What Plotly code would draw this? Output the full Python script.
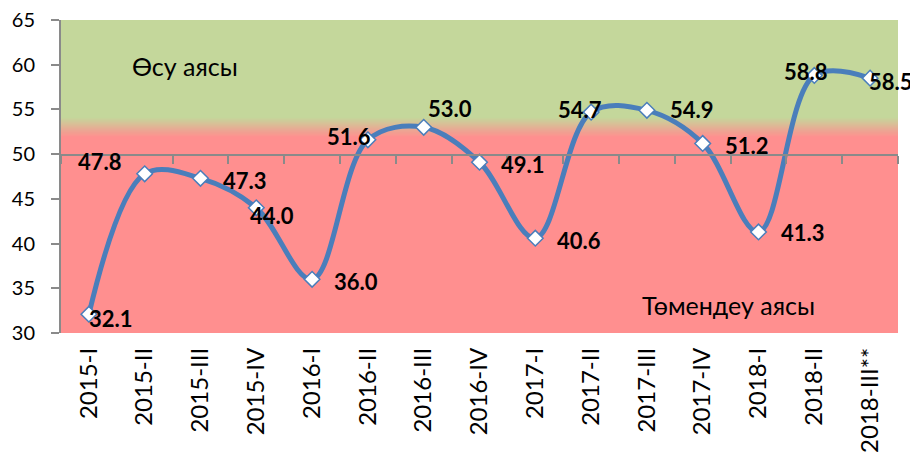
import plotly.graph_objects as go

quarters = [
    "2015-I", "2015-II", "2015-III", "2015-IV",
    "2016-I", "2016-II", "2016-III", "2016-IV",
    "2017-I", "2017-II", "2017-III", "2017-IV",
    "2018-I", "2018-II", "2018-III**",
]
index_values = [32.1, 47.8, 47.3, 44.0, 36.0, 51.6, 53.0, 49.1,
                40.6, 54.7, 54.9, 51.2, 41.3, 58.8, 58.5]

# pixel offsets of each value label from its point
label_dx = [22, -45, 44, 16, 44, -19, 26, 43, 44, -11, 45, 44, 44, -8, 21]
label_dy = [-4, 12, -2, -8, -2, 3, 19, -2, -2, 3, 1, -2, -1, 4, -3]

GREEN = (196, 215, 155)
RED = (255, 143, 143)
AXIS_GREY = "#8a8a8a"
FONT = "Lato, 'Noto Sans', sans-serif"


def mix(a, b, t):
    return "rgb(%d,%d,%d)" % tuple(round(a[i] + (b[i] - a[i]) * t) for i in range(3))


fig = go.Figure()

fig.add_trace(
    go.Scatter(
        x=quarters,
        y=index_values,
        mode="lines+markers",
        line=dict(color="#4a7ebb", width=5, shape="spline", smoothing=1.0),
        marker=dict(symbol="diamond", size=12, color="white",
                    line=dict(color="#4a7ebb", width=1.5)),
        hoverinfo="x+y",
        showlegend=False,
        cliponaxis=False,
    )
)

# invisible trace carrying the crossing axis at 50
fig.add_trace(
    go.Scatter(x=quarters, y=[None] * len(quarters), xaxis="x2", yaxis="y2",
               mode="lines", showlegend=False, hoverinfo="skip")
)

for q, v, dx, dy in zip(quarters, index_values, label_dx, label_dy):
    fig.add_annotation(
        x=q, y=v, text="<b>%.1f</b>" % v, showarrow=False,
        xshift=dx, yshift=dy,
        font=dict(family=FONT, size=22, color="black"),
    )

# background zones: red below, green above, short gradient between
lo, hi = 51.9, 54.1
fig.add_shape(type="rect", xref="paper", yref="y", x0=0, x1=1, y0=30, y1=65,
              fillcolor=mix(RED, RED, 0), line_width=0, layer="below")
steps = 40
for i in range(steps + 1):
    y0 = lo + (hi - lo) * i / steps
    fig.add_shape(type="rect", xref="paper", yref="y", x0=0, x1=1, y0=y0, y1=65,
                  fillcolor=mix(RED, GREEN, i / steps), line_width=0, layer="below")

fig.add_annotation(x=0.148, xref="paper", xanchor="center", y=59.9, yref="y",
                   text="Өсу аясы", showarrow=False,
                   font=dict(family=FONT, size=25, color="black"))
fig.add_annotation(x=0.797, xref="paper", xanchor="center", y=33.1, yref="y",
                   text="Төмендеу аясы", showarrow=False,
                   font=dict(family=FONT, size=25, color="black"))

# the page body adds an 8px margin, so the figure is 8px smaller and shifted
fig.update_layout(
    width=910,
    height=448,
    margin=dict(l=53, r=20, t=12, b=123),
    paper_bgcolor="white",
    plot_bgcolor="rgba(0,0,0,0)",
    font=dict(family=FONT, color="black"),
    xaxis=dict(
        type="category",
        categoryorder="array",
        categoryarray=quarters,
        range=[-0.5, len(quarters) - 0.5],
        automargin=False,
        showgrid=False,
        showline=False,
        zeroline=False,
        ticks="",
        tickangle=-90,
        ticklabelstandoff=9,
        ticklabeloverflow="allow",
        tickfont=dict(family=FONT, size=24, color="black"),
    ),
    xaxis2=dict(
        type="category",
        categoryorder="array",
        categoryarray=quarters,
        range=[-0.5, len(quarters) - 0.5],
        overlaying="x",
        anchor="y2",
        automargin=False,
        showgrid=False,
        showline=True,
        linecolor=AXIS_GREY,
        linewidth=2,
        ticks="outside",
        tickson="boundaries",
        ticklen=8,
        tickwidth=1.5,
        tickcolor=AXIS_GREY,
        showticklabels=False,
    ),
    yaxis=dict(
        range=[30, 65],
        dtick=5,
        automargin=False,
        showgrid=False,
        zeroline=False,
        showline=True,
        linecolor=AXIS_GREY,
        linewidth=2,
        ticks="outside",
        ticklen=8,
        tickwidth=1.5,
        tickcolor=AXIS_GREY,
        ticklabelstandoff=12,
        ticklabeloverflow="allow",
        tickfont=dict(family=FONT, size=20, color="black"),
    ),
    yaxis2=dict(
        domain=[(50 - 30) / (65 - 30), 1],
        range=[0, 1],
        visible=False,
    ),
)

fig.write_html("out.html")
